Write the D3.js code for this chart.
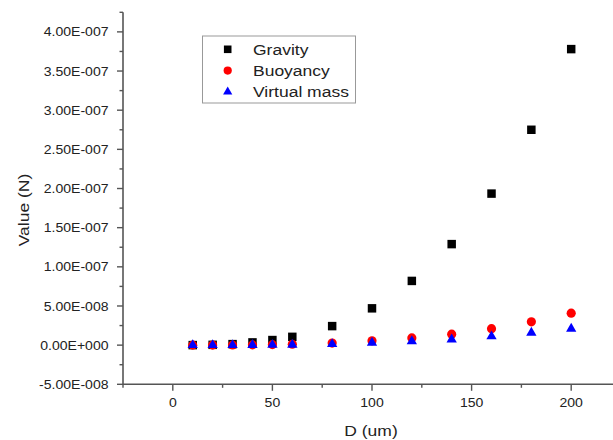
<!DOCTYPE html>
<html>
<head>
<meta charset="utf-8">
<script src="https://cdn.jsdelivr.net/npm/d3@7"></script>
<style>
  html, body { margin: 0; padding: 0; background: #fff; }
  svg { display: block; }
  text { font-family: "Liberation Sans", Arial, sans-serif; fill: #222; }
</style>
</head>
<body>
<svg id="chart" width="613" height="440"></svg>
<script>
// Particle diameter (um)
const diameters = [10, 20, 30, 40, 50, 60, 80, 100, 120, 140, 160, 180, 200];

// Forces acting on the particle (N)
const gravity = [0.05e-9, 0.4e-9, 1.3e-9, 3.5e-9, 6.5e-9, 1.06e-8, 2.43e-8, 4.7e-8, 8.2e-8, 1.29e-7, 1.935e-7, 2.75e-7, 3.78e-7];
const buoyancy = [0.01e-9, 0.05e-9, 0.15e-9, 0.35e-9, 0.65e-9, 1.1e-9, 2.6e-9, 5.5e-9, 9.2e-9, 1.4e-8, 2.1e-8, 2.98e-8, 4.08e-8];
const virtualMass = [0, 0.03e-9, 0.08e-9, 0.18e-9, 0.32e-9, 0.55e-9, 1.3e-9, 3.0e-9, 5.0e-9, 7.2e-9, 1.12e-8, 1.58e-8, 2.1e-8];

const seriesNames = ["Gravity", "Buoyancy", "Virtual mass"];
const seriesColors = ["#000000", "#ff0000", "#0000ff"];
const seriesShapes = [d3.symbolSquare, d3.symbolCircle, d3.symbolTriangle];

// Axis ticks
const xTicks = [0, 50, 100, 150, 200];
const yTicks = [-5e-8, 0, 5e-8, 1e-7, 1.5e-7, 2e-7, 2.5e-7, 3e-7, 3.5e-7, 4e-7];

const xTitle = "D (um)";
const yTitle = "Value (N)";

const svg = d3.select("#chart");

const x = d3.scaleLinear().domain([-25, 225]).range([123, 621]);
const y = d3.scaleLinear().domain([-5e-8, 4.25e-7]).range([384.3, 12.3]);

// Scientific labels in the style 4.00E-007 / 0.00E+000
function sciFormat(v) {
  if (v === 0) return "0.00E+000";
  const e = Math.floor(Math.log10(Math.abs(v)) + 1e-9);
  const m = v / Math.pow(10, e);
  const sign = e < 0 ? "-" : "+";
  return m.toFixed(2) + "E" + sign + String(Math.abs(e)).padStart(3, "0");
}

const axisColor = "#555";

// Minor ticks (halfway between majors)
const xMinor = d3.range(-25, 226, 50);
const yMinor = d3.range(-2.5e-8, 4.26e-7, 5e-8);

// Y axis
const gy = svg.append("g").attr("transform", `translate(${x(-25)},0)`);
gy.append("line").attr("x1", 0).attr("x2", 0).attr("y1", y(4.25e-7)).attr("y2", y(-5e-8))
  .attr("stroke", axisColor).attr("stroke-width", 1.6);
gy.selectAll("line.major").data(yTicks).join("line").attr("class", "major")
  .attr("x1", -6).attr("x2", 0).attr("y1", d => y(d)).attr("y2", d => y(d))
  .attr("stroke", axisColor).attr("stroke-width", 1.4);
gy.selectAll("line.minor").data(yMinor).join("line").attr("class", "minor")
  .attr("x1", -3.5).attr("x2", 0).attr("y1", d => y(d)).attr("y2", d => y(d))
  .attr("stroke", axisColor).attr("stroke-width", 1.4);
gy.selectAll("text").data(yTicks).join("text")
  .attr("transform", d => `translate(-14.5,${y(d)}) scale(1.08,1)`)
  .attr("dy", "0.35em").attr("text-anchor", "end")
  .style("font-size", "13px").attr("fill", "#333")
  .text(sciFormat);

// X axis
const gx = svg.append("g").attr("transform", `translate(0,${y(-5e-8)})`);
gx.append("line").attr("x1", x(-25)).attr("x2", x(225)).attr("y1", 0).attr("y2", 0)
  .attr("stroke", axisColor).attr("stroke-width", 1.6);
gx.selectAll("line.major").data(xTicks).join("line").attr("class", "major")
  .attr("x1", d => x(d)).attr("x2", d => x(d)).attr("y1", 0).attr("y2", 6.5)
  .attr("stroke", axisColor).attr("stroke-width", 1.4);
gx.selectAll("line.minor").data(xMinor).join("line").attr("class", "minor")
  .attr("x1", d => x(d)).attr("x2", d => x(d)).attr("y1", 0).attr("y2", 3.5)
  .attr("stroke", axisColor).attr("stroke-width", 1.4);
gx.selectAll("text").data(xTicks).join("text")
  .attr("transform", d => `translate(${x(d)},23) scale(1.08,1)`)
  .attr("text-anchor", "middle")
  .style("font-size", "13px").attr("fill", "#333")
  .text(d => d);

// Axis titles
svg.append("text")
  .attr("transform", `translate(${x(100) - 1},436) scale(1.13,1)`)
  .attr("text-anchor", "middle").style("font-size", "15.5px")
  .text(xTitle);
svg.append("text")
  .attr("transform", `translate(29,210) rotate(-90) scale(1.13,1)`)
  .attr("text-anchor", "middle").style("font-size", "15.5px")
  .text(yTitle);

// Data points
const allSeries = [gravity, buoyancy, virtualMass];
const symbolSizes = [72, 66, 46];

allSeries.forEach((vals, i) => {
  const sym = d3.symbol().type(seriesShapes[i]).size(symbolSizes[i]);
  svg.append("g").selectAll("path")
    .data(diameters.map((d, k) => ({ d, v: vals[k] })))
    .join("path")
    .attr("transform", p => `translate(${x(p.d)},${y(p.v)})`)
    .attr("d", sym)
    .attr("fill", seriesColors[i]);
});

// Legend
const legend = svg.append("g");
legend.append("rect")
  .attr("x", 202.5).attr("y", 36).attr("width", 153).attr("height", 67)
  .attr("fill", "#fff").attr("stroke", "#999").attr("stroke-width", 1);
seriesNames.forEach((name, i) => {
  const cy = 49.3 + i * 21.3;
  legend.append("path")
    .attr("transform", `translate(227.7,${cy})`)
    .attr("d", d3.symbol().type(seriesShapes[i]).size(symbolSizes[i] * 0.8)())
    .attr("fill", seriesColors[i]);
  legend.append("text")
    .attr("transform", `translate(253,${cy}) scale(1.13,1)`)
    .attr("dy", "0.36em").style("font-size", "15.5px")
    .text(name);
});
</script>
</body>
</html>
